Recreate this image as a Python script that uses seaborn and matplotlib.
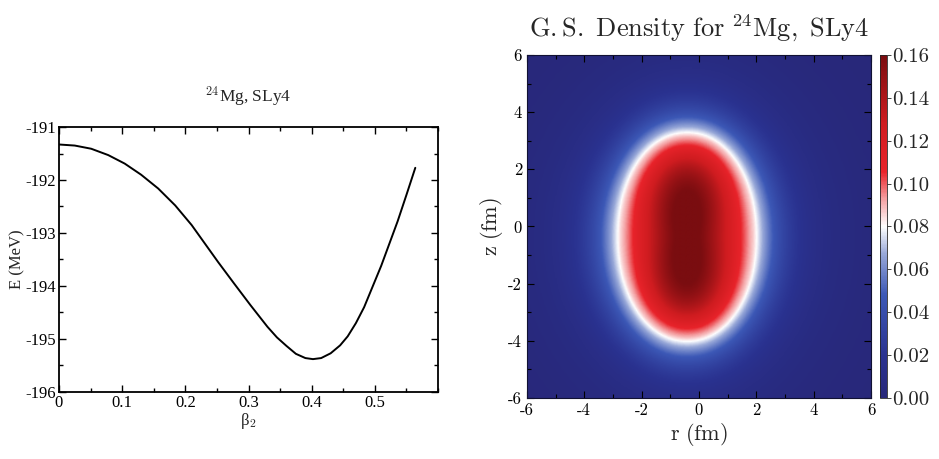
import numpy as np
import pandas as pd
import seaborn as sns
import matplotlib
matplotlib.use("Agg")
import matplotlib.pyplot as plt
from matplotlib.colors import LinearSegmentedColormap
from matplotlib.ticker import MultipleLocator

# ---------------- data: left panel (energy curve) ----------------
beta2 = [0.000, 0.025, 0.051, 0.078, 0.104, 0.130, 0.157, 0.184, 0.210, 0.231,
         0.252, 0.277, 0.303, 0.330, 0.345, 0.360, 0.375, 0.390, 0.402, 0.415,
         0.430, 0.445, 0.457, 0.470, 0.483, 0.510, 0.536, 0.550, 0.564]
energy = [-191.33, -191.35, -191.41, -191.53, -191.69, -191.90, -192.16, -192.48,
          -192.85, -193.20, -193.55, -193.95, -194.36, -194.77, -194.97, -195.13,
          -195.28, -195.36, -195.38, -195.36, -195.27, -195.12, -194.95, -194.70,
          -194.40, -193.62, -192.78, -192.28, -191.77]
beta_ticks = [0, 0.1, 0.2, 0.3, 0.4, 0.5]
beta_tick_labels = ["0", "0.1", "0.2", "0.3", "0.4", "0.5"]
e_ticks = [-196, -195, -194, -193, -192, -191]

# ---------------- data: right panel (density shape parameters) ----
r_center = [-0.43]           # fm
z_center = [-0.38]           # fm
half_axes = [2.32, 3.5]      # fm (r, z) where density falls to half of the core value
shape_power = [2.1]
diffuseness = [0.5]          # fm
core_density = [0.125]       # fm^-3
bump_z = [1.0, -1.8]         # fm, dark-core maxima
bump_amp = [0.035, 0.035]
bump_sigma = [0.95, 1.35]    # (r, z)
halo_amp = [0.045]
halo_length = [1.5]          # fm
r_ticks = [-6, -4, -2, 0, 2, 4, 6]
z_ticks = [-6, -4, -2, 0, 2, 4, 6]
cbar_ticks = [0.00, 0.02, 0.04, 0.06, 0.08, 0.10, 0.12, 0.14, 0.16]

sns.set_theme(style="ticks")
plt.rcParams["font.family"] = ["Liberation Serif", "DejaVu Serif"]
plt.rcParams["mathtext.fontset"] = "cm"

fig = plt.figure(figsize=(9.39, 4.59), dpi=100)

# ---------------- left panel ----------------
ax1 = fig.add_axes([0.0628, 0.146, 0.4037, 0.5773])
df = pd.DataFrame({"beta2": beta2, "E": energy})
sns.lineplot(data=df, x="beta2", y="E", ax=ax1, color="black", lw=1.4)
ax1.set_xlim(0, 0.6)
ax1.set_ylim(-196, -191)
ax1.set_xticks(beta_ticks, labels=beta_tick_labels)
ax1.set_yticks(e_ticks, labels=[str(v) for v in e_ticks])
ax1.xaxis.set_minor_locator(MultipleLocator(0.05))
ax1.yaxis.set_minor_locator(MultipleLocator(0.5))
ax1.tick_params(which="both", direction="in", top=True, right=True, labelsize=12,
                color="black", labelcolor="black")
ax1.tick_params(which="major", length=5, width=1)
ax1.tick_params(which="minor", length=3, width=1)
ax1.tick_params(axis="y", pad=2)
ax1.tick_params(axis="x", pad=2)
for s in ax1.spines.values():
    s.set_linewidth(1.3)
    s.set_color("black")
ax1.set_xlabel(r"β$_2$", fontsize=12, labelpad=0)
ax1.set_ylabel("E (MeV)", fontsize=12, labelpad=0)
ax1.set_title(r"$^{24}$Mg, SLy4", fontsize=12.5, pad=18)

# ---------------- right panel ----------------
r = np.linspace(-6, 6, 301)
z = np.linspace(-6, 6, 301)
R, Z = np.meshgrid(r, z)
dr = R - r_center[0]
dz = Z - z_center[0]
p = shape_power[0]
d = ((np.abs(dr) / half_axes[0]) ** p + (np.abs(dz) / half_axes[1]) ** p) ** (1 / p)
rad = np.hypot(dr, dz)
s = rad * (1 - 1 / np.maximum(d, 1e-6))
core = core_density[0] + sum(
    a * np.exp(-((R - r_center[0]) ** 2 / (2 * bump_sigma[0] ** 2)
                 + (Z - zc) ** 2 / (2 * bump_sigma[1] ** 2)))
    for zc, a in zip(bump_z, bump_amp))
F = 1 / (1 + np.exp(s / diffuseness[0]))
rho = core * F + halo_amp[0] * (1 - F) * np.exp(-np.maximum(s, 0) / halo_length[0])

cmap = LinearSegmentedColormap.from_list("gs", [
    (0.00, "#28287a"),
    (0.12, "#2a3290"),
    (0.30, "#3c58b6"),
    (0.42, "#98a8d8"),
    (0.50, "#ffffff"),
    (0.58, "#f4a0a2"),
    (0.66, "#e8232a"),
    (0.80, "#cf1c20"),
    (1.00, "#7a0d10"),
])

ax2 = fig.add_axes([0.5612, 0.1329, 0.3664, 0.7473])
im = ax2.imshow(rho, extent=[-6, 6, -6, 6], origin="lower", cmap=cmap,
                vmin=0, vmax=0.16, aspect="auto", interpolation="bilinear")
ax2.set_xlim(-6, 6)
ax2.set_ylim(-6, 6)
ax2.set_xticks(r_ticks, labels=[str(v) for v in r_ticks])
ax2.set_yticks(z_ticks, labels=[str(v) for v in z_ticks])
ax2.xaxis.set_minor_locator(MultipleLocator(1))
ax2.yaxis.set_minor_locator(MultipleLocator(1))
ax2.tick_params(which="both", direction="in", top=True, right=True, color="black",
                labelcolor="black", labelsize=12)
ax2.tick_params(which="major", length=5, width=0.8)
ax2.tick_params(which="minor", length=3, width=0.8)
for lab in ax2.get_xticklabels() + ax2.get_yticklabels():
    lab.set_fontfamily("cmr10")
for sp in ax2.spines.values():
    sp.set_linewidth(0.8)
    sp.set_color("#111133")
ax2.set_xlabel(r"$\mathrm{r\ (fm)}$", fontsize=16, labelpad=2)
ax2.set_ylabel(r"$\mathrm{z\ (fm)}$", fontsize=16, labelpad=2)
ax2.set_title(r"$\mathrm{G.S.\ Density\ for\ }^{24}\mathrm{Mg,\ SLy4}$", fontsize=19, pad=13)

cax = fig.add_axes([0.9372, 0.1329, 0.0074, 0.7473])
cb = fig.colorbar(im, cax=cax, ticks=cbar_ticks)
cb.ax.set_yticklabels([f"{v:.2f}" for v in cbar_ticks])
cb.ax.tick_params(labelsize=15, length=3, width=0.6, direction="out", pad=1)
for lab in cb.ax.get_yticklabels():
    lab.set_fontfamily("cmr10")
cb.outline.set_linewidth(0.6)

fig.savefig("out.png", dpi=100)
